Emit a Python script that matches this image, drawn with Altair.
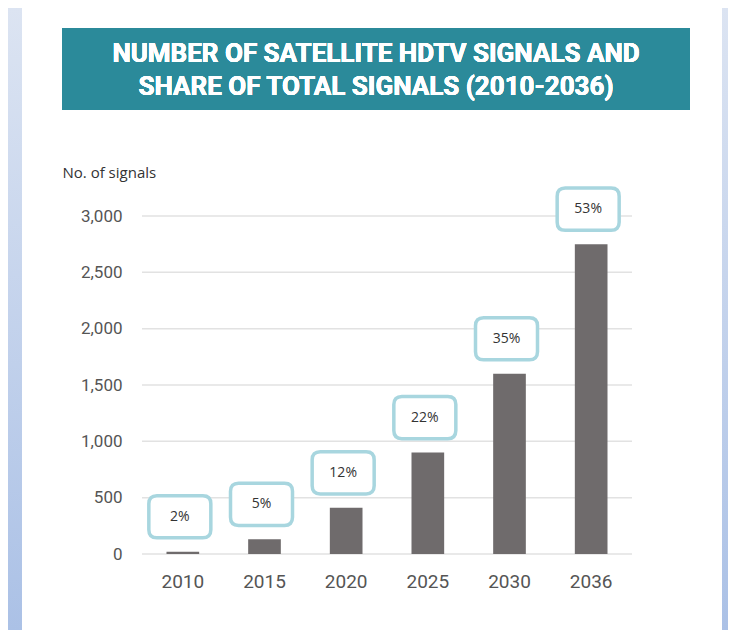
import altair as alt
import pandas as pd

years = ["2010", "2015", "2020", "2025", "2030", "2036"]
signals = [20, 130, 410, 900, 1600, 2750]
shares = ["2%", "5%", "12%", "22%", "35%", "53%"]
y_ticks = [0, 500, 1000, 1500, 2000, 2500, 3000]
title_lines = ["NUMBER OF SATELLITE HDTV SIGNALS AND", "SHARE OF TOTAL SIGNALS (2010-2036)"]
y_title = "No. of signals"

df = pd.DataFrame({"year": years, "signals": signals, "share": shares})
grid_df = pd.DataFrame({"tick": y_ticks})

W, H = 490, 338
PAD_L, PAD_T, PAD_R, PAD_B = 134, 208, 96, 76
LABEL_FONT = "Roboto"

x_enc = alt.X("year:N", sort=years,
              scale=alt.Scale(paddingInner=0.6, paddingOuter=0.3),
              axis=alt.Axis(title=None, labelAngle=0, domain=False, ticks=False,
                            labelFont=LABEL_FONT, labelFontSize=19,
                            labelColor="#555555", labelPadding=18, zindex=1))
y_scale = alt.Scale(domain=[0, 3000], nice=False)
y_enc = alt.Y("signals:Q", scale=y_scale,
              axis=alt.Axis(values=y_ticks, format=",d", domain=False, ticks=False,
                            grid=False, zindex=1,
                            labelFont=LABEL_FONT, labelFontSize=17,
                            labelColor="#555555", labelPadding=20,
                            title=y_title, titleAngle=0, titleX=-80, titleY=-44,
                            titleAlign="left", titleBaseline="middle",
                            titleFont="Open Sans", titleFontSize=15,
                            titleFontWeight="normal", titleColor="#333333"))

base = alt.Chart(df)

bg = base.mark_rect(color=alt.Gradient(
        gradient="linear", x1=0, y1=0, x2=0, y2=1,
        stops=[alt.GradientStop(color="#dce4f2", offset=0),
               alt.GradientStop(color="#abc1e6", offset=1)])).encode(
    x=alt.value(-PAD_L), x2=alt.value(W + PAD_R),
    y=alt.value(-PAD_T), y2=alt.value(H + PAD_B))

panel = base.mark_rect(color="white").encode(
    x=alt.value(-120), x2=alt.value(580),
    y=alt.value(-PAD_T), y2=alt.value(H + PAD_B))

title_box = base.mark_rect(color="#2b8a9a").encode(
    x=alt.value(-80), x2=alt.value(548),
    y=alt.value(-188), y2=alt.value(-106))

title_text = base.mark_text(text=title_lines, color="white", font="Roboto",
                            fontSize=26, fontWeight="bold", align="center",
                            baseline="middle", lineHeight=33).encode(
    x=alt.value(234), y=alt.value(-162))

grid = alt.Chart(grid_df).mark_rule(color="#e2e2e2", strokeWidth=1.5).encode(
    y=alt.Y("tick:Q", scale=y_scale), x=alt.value(0), x2=alt.value(W))

bars = base.mark_bar(color="#6f6b6c").encode(x=x_enc, y=y_enc)

box_path = ("M -0.74,-0.68 L 0.74,-0.68 Q 1,-0.68 1,-0.42 L 1,0.42 Q 1,0.68 0.74,0.68 "
            "L -0.74,0.68 Q -1,0.68 -1,0.42 L -1,-0.42 Q -1,-0.68 -0.74,-0.68 Z")

boxes = base.mark_point(shape=box_path, size=3844, filled=True, fill="white",
                        stroke="#a8d6df", strokeWidth=3.5, opacity=1,
                        yOffset=-35, xOffset=-3).encode(
    x=alt.X("year:N", sort=years), y="signals:Q")

labels = base.mark_text(font="Open Sans", fontSize=14, color="#333333",
                        yOffset=-35, xOffset=-3, baseline="middle").encode(
    x=alt.X("year:N", sort=years), y="signals:Q", text="share:N")

chart = alt.layer(bg, panel, title_box, title_text, grid, bars, boxes, labels).properties(
    width=W, height=H,
    autosize=alt.AutoSizeParams(type="none"),
    padding={"left": PAD_L, "top": PAD_T, "right": PAD_R, "bottom": PAD_B},
    background="white",
).configure_view(stroke=None)

chart.save("out.html", embed_options={"renderer": "svg", "actions": False})
